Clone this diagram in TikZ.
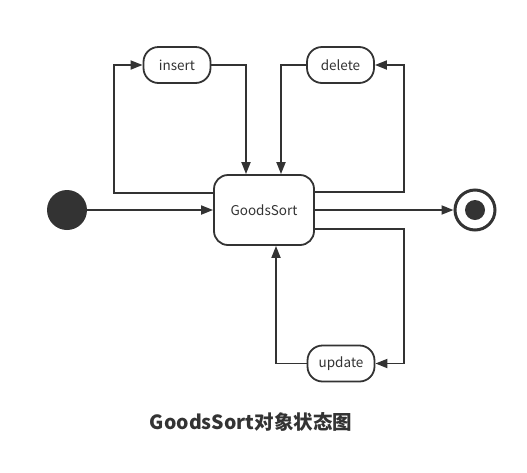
\documentclass[tikz,border=0pt]{standalone}
\usepackage{fontspec}
\setmainfont{Noto Sans CJK SC}
\usetikzlibrary{arrows.meta}
\definecolor{ink}{HTML}{333333}
\begin{document}
\begin{tikzpicture}[x=1pt,y=-1pt,
  every node/.style={font=\fontsize{13.5}{15}\selectfont, text=ink},
  st/.style={draw=ink, line width=1.8pt, rounded corners=14pt, fill=white, inner sep=0pt},
  ev/.style={draw=ink, line width=1.8pt, rounded corners=15pt, fill=white, minimum width=67pt, minimum height=36pt, inner sep=0pt},
  ln/.style={draw=ink, line width=1.8pt},
  ar/.style={ln, -{Triangle[length=12pt,width=9pt]}}]
\useasboundingbox (0,0) rectangle (527,472);
\node[st, minimum width=100pt, minimum height=70pt] (gs) at (264,210) {GoodsSort};
\node[ev] (ins) at (177,65) {insert};
\node[ev] (del) at (340.5,65) {delete};
\node[ev] (upd) at (341,363.5) {update};
\node[circle, fill=ink, minimum size=40pt, inner sep=0pt] (init) at (67,210) {};
\node[circle, draw=ink, line width=3pt, minimum size=40pt, inner sep=0pt] (fin) at (475,210) {};
\node[circle, fill=ink, minimum size=20pt, inner sep=0pt] (finin) at (475,210) {};
\coordinate (c1) at (114,193);
\coordinate (c2) at (114,65);
\coordinate (c3) at (246,65);
\coordinate (c4) at (281,65);
\coordinate (c5) at (404,192);
\coordinate (c6) at (404,65);
\coordinate (c7) at (404,229);
\coordinate (c8) at (404,363.5);
\coordinate (c9) at (276,363.5);
\draw[ar] (init) -- (gs);
\draw[ar] (gs) -- (fin);
\draw[ar] (gs.west |- c1) -- (c1) -- (c2) -- (ins);
\draw[ar] (ins) -- (c3) -- (c3 |- gs.north);
\draw[ar] (gs.east |- c5) -- (c5) -- (c6) -- (del);
\draw[ar] (del) -- (c4) -- (c4 |- gs.north);
\draw[ar] (gs.east |- c7) -- (c7) -- (c8) -- (upd);
\draw[ar] (upd) -- (c9) -- (c9 |- gs.south);
\node[font=\fontsize{19.5}{22}\selectfont\bfseries] (title) at (251,422) {GoodsSort对象状态图};
\end{tikzpicture}
\end{document}
